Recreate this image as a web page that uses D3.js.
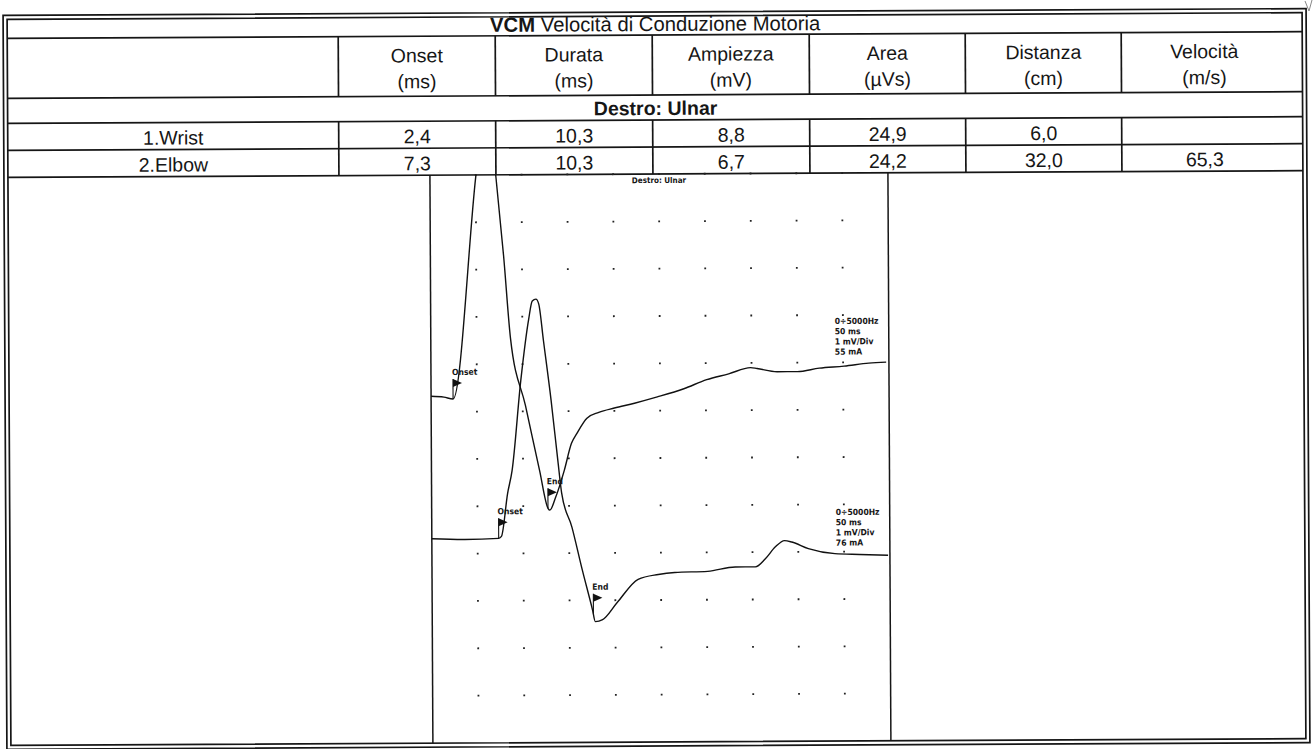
<!DOCTYPE html>
<html><head><meta charset="utf-8">
<script src="https://cdn.jsdelivr.net/npm/d3@7"></script>
<style>html,body{margin:0;padding:0;background:#fff;} svg{display:block}</style>
</head><body>
<svg id="chart" width="1314" height="749"></svg>
<script>
// ---------------- data ----------------
const titleBold = "VCM";
const titleRest = " Velocità di Conduzione Motoria";
const headerNames = ["Onset", "Durata", "Ampiezza", "Area", "Distanza", "Velocità"];
const headerUnits = ["(ms)", "(ms)", "(mV)", "(µVs)", "(cm)", "(m/s)"];
const sectionLabel = "Destro: Ulnar";
const siteLabels = ["1.Wrist", "2.Elbow"];
const wristValues = ["2,4", "10,3", "8,8", "24,9", "6,0", ""];
const elbowValues = ["7,3", "10,3", "6,7", "24,2", "32,0", "65,3"];
const onsetMs = [2.4, 7.3];
const durationMs = [10.3, 10.3];

const wristTime = [0, 1.4, 2.4, 5.0, 6.1, 7.2, 8.0, 8.7, 10.3, 11.8, 12.7, 12.9, 13.5, 14.5, 15.3, 15.9, 17.0, 18.3, 20.0, 22.2, 24.7, 27.6, 30.1, 32.5, 34.9, 35.6, 37.8, 40.0, 42.4, 45.1, 47.8, 49.7];
const wristMv   = [0, -0.02, -0.06, 4.63, 6.4, 4.63, 2.95, 1.22, -0.21, -1.58, -2.38, -2.42, -2.17, -1.58, -1.01, -0.8, -0.48, -0.36, -0.27, -0.17, -0.04, 0.13, 0.32, 0.44, 0.57, 0.55, 0.48, 0.48, 0.55, 0.59, 0.65, 0.67];
const elbowTime = [0, 3.6, 7.3, 7.6, 8.3, 8.8, 9.8, 10.7, 11.1, 11.5, 11.8, 12.3, 13.1, 13.8, 14.2, 15.3, 16.4, 17.5, 17.8, 18.6, 20.2, 22.5, 24.7, 26.5, 30.1, 33.1, 35.3, 36.4, 37.5, 38.5, 39.3, 41.1, 44.0, 46.7, 49.8];
const elbowMv   = [0, -0.02, 0, 0.04, 0.95, 1.43, 3.33, 4.63, 5.01, 5.05, 4.95, 4.17, 2.91, 1.64, 0.95, 0.23, -0.67, -1.52, -1.77, -1.73, -1.37, -0.88, -0.78, -0.74, -0.72, -0.63, -0.63, -0.46, -0.21, -0.08, -0.11, -0.25, -0.36, -0.38, -0.4];

const wristSettings = ["0÷5000Hz", "50 ms", "1 mV/Div", "55 mA"];
const elbowSettings = ["0÷5000Hz", "50 ms", "1 mV/Div", "76 mA"];
const sweepMs = [0, 50];          // 10 div x 5 ms
const screenMv = [0, 12];         // 12 div x 1 mV/Div
const traceBaselineMv = [7.33, 4.32]; // baseline level of each trace on the screen

// ---------------- layout ----------------
const svg = d3.select("#chart");
const root = svg.append("g").attr("transform", "rotate(-0.3 657 380)");
const ink = "#161616";
const L = {oL: 5, oR: 1308, oT: 12, oB: 746, iL: 9, iR: 1304, iT: 16, iB: 742,
  titleB: 35, headB: 95, secB: 120, wristB: 147, elbowB: 174,
  cols: [9, 340, 497, 654, 811, 967, 1123, 1304],
  pL: 431, pR: 889};

root.append("rect").attr("x", L.oL).attr("y", L.oT).attr("width", L.oR - L.oL).attr("height", L.oB - L.oT)
  .attr("fill", "none").attr("stroke", ink).attr("stroke-width", 1.7);
root.append("rect").attr("x", L.iL).attr("y", L.iT).attr("width", L.iR - L.iL).attr("height", L.iB - L.iT)
  .attr("fill", "none").attr("stroke", ink).attr("stroke-width", 1.7);

[L.titleB, L.headB, L.secB, L.wristB, L.elbowB].forEach(y => {
  root.append("line").attr("x1", L.iL).attr("x2", L.iR).attr("y1", y).attr("y2", y)
    .attr("stroke", ink).attr("stroke-width", 1.7);
});
L.cols.slice(1, -1).forEach(x => {
  root.append("line").attr("x1", x).attr("x2", x).attr("y1", L.titleB).attr("y2", L.headB).attr("stroke", ink).attr("stroke-width", 1.7);
  root.append("line").attr("x1", x).attr("x2", x).attr("y1", L.secB).attr("y2", L.elbowB).attr("stroke", ink).attr("stroke-width", 1.7);
});
[L.pL, L.pR].forEach(x => root.append("line").attr("x1", x).attr("x2", x).attr("y1", L.elbowB).attr("y2", L.iB)
  .attr("stroke", ink).attr("stroke-width", 1.5));

// pen mark at the top-right corner of the scanned sheet
svg.append("path").attr("d", "M1305,1 L1309,11 L1312,0").attr("fill", "none").attr("stroke", "#888").attr("stroke-width", 1);

const font = "'Liberation Sans', Arial, sans-serif";
const fs = 19.5;
const tt = root.append("text").attr("x", 657).attr("y", 31).attr("text-anchor", "middle")
  .attr("font-family", font).attr("font-size", 20.3).attr("fill", ink);
tt.append("tspan").attr("font-weight", "bold").text(titleBold);
tt.append("tspan").text(titleRest);

const colCenter = i => i === 5 ? 1206 : (L.cols[i + 1] + L.cols[i + 2]) / 2;
headerNames.forEach((h, i) => {
  root.append("text").attr("x", colCenter(i)).attr("y", 61).attr("text-anchor", "middle")
    .attr("font-family", font).attr("font-size", fs).attr("fill", ink).text(h);
  root.append("text").attr("x", colCenter(i)).attr("y", 87).attr("text-anchor", "middle")
    .attr("font-family", font).attr("font-size", fs).attr("fill", ink).text(headerUnits[i]);
});
root.append("text").attr("x", 657).attr("y", 115).attr("text-anchor", "middle")
  .attr("font-family", font).attr("font-size", fs).attr("font-weight", "bold").attr("fill", ink).text(sectionLabel);

[wristValues, elbowValues].forEach((vals, r) => {
  const yb = r === 0 ? 142 : 169;
  root.append("text").attr("x", (L.cols[0] + L.cols[1]) / 2).attr("y", yb).attr("text-anchor", "middle")
    .attr("font-family", font).attr("font-size", fs).attr("fill", ink).text(siteLabels[r]);
  vals.forEach((v, i) => {
    root.append("text").attr("x", colCenter(i)).attr("y", yb).attr("text-anchor", "middle")
      .attr("font-family", font).attr("font-size", fs).attr("fill", ink).text(v);
  });
});

// ---------------- waveform panel ----------------
const x = d3.scaleLinear().domain(sweepMs).range([L.pL, L.pR]);
const y = d3.scaleLinear().domain(screenMv).range([L.iB, L.elbowB]);

const pan = root.append("g");
pan.append("clipPath").attr("id", "pclip").append("rect")
  .attr("x", L.pL).attr("y", L.elbowB).attr("width", L.pR - L.pL).attr("height", L.iB - L.elbowB);

const gx = d3.range(5, 50, 5), gy = d3.range(1, 13, 1);
const dots = [];
gx.forEach(t => gy.forEach(m => dots.push([t, m])));
pan.selectAll("rect.dot").data(dots).join("rect").attr("class", "dot")
  .attr("x", d => x(d[0]) - 0.9).attr("y", d => y(d[1]) - 0.9).attr("width", 1.8).attr("height", 1.8).attr("fill", "#222");

const condensed = "'DejaVu Sans Condensed','DejaVu Sans',sans-serif";
pan.append("text").attr("x", (L.pL + L.pR) / 2).attr("y", 183).attr("text-anchor", "middle")
  .attr("font-family", condensed).attr("font-weight", "bold")
  .attr("font-size", 8).attr("fill", ink).text(sectionLabel);

const traces = [
  {t: wristTime, v: wristMv, base: traceBaselineMv[0]},
  {t: elbowTime, v: elbowMv, base: traceBaselineMv[1]}
];
const line = d3.line().x(d => x(d[0])).y(d => y(d[1])).curve(d3.curveMonotoneX);
traces.forEach(tr => {
  const pts = tr.t.map((t, i) => [t, tr.base + tr.v[i]]);
  pan.append("path").attr("d", line(pts)).attr("fill", "none").attr("stroke", "#111")
    .attr("stroke-width", 1.4).attr("clip-path", "url(#pclip)");
});

function valueAt(tr, t) {
  const i = d3.bisectRight(tr.t, t);
  if (i <= 0) return tr.v[0];
  if (i >= tr.t.length) return tr.v[tr.v.length - 1];
  const f = (t - tr.t[i - 1]) / (tr.t[i] - tr.t[i - 1]);
  return tr.v[i - 1] + f * (tr.v[i] - tr.v[i - 1]);
}
const markers = [];
traces.forEach((tr, k) => {
  markers.push({label: "Onset", t: onsetMs[k], tr});
  markers.push({label: "End", t: onsetMs[k] + durationMs[k], tr});
});
markers.forEach(m => {
  const px = x(m.t), py = y(m.tr.base + valueAt(m.tr, m.t));
  const g = pan.append("g");
  g.append("line").attr("x1", px).attr("x2", px).attr("y1", py).attr("y2", py - 20).attr("stroke", "#111").attr("stroke-width", 1.1);
  g.append("path").attr("d", `M${px},${py - 20}L${px + 9},${py - 16}L${px},${py - 12}Z`).attr("fill", "#111");
  g.append("text").attr("x", px - 1).attr("y", py - 24).attr("font-family", condensed).attr("font-weight", "bold")
    .attr("font-size", 8.5).attr("fill", ink).text(m.label);
});

[[wristSettings, 325], [elbowSettings, 516]].forEach(([lines, y0]) => {
  lines.forEach((s, i) => {
    pan.append("text").attr("x", 835).attr("y", y0 + i * 10.2).attr("font-family", condensed)
      .attr("font-weight", "bold").attr("font-size", 8.5).attr("fill", ink).text(s);
  });
});
</script>
</body></html>
